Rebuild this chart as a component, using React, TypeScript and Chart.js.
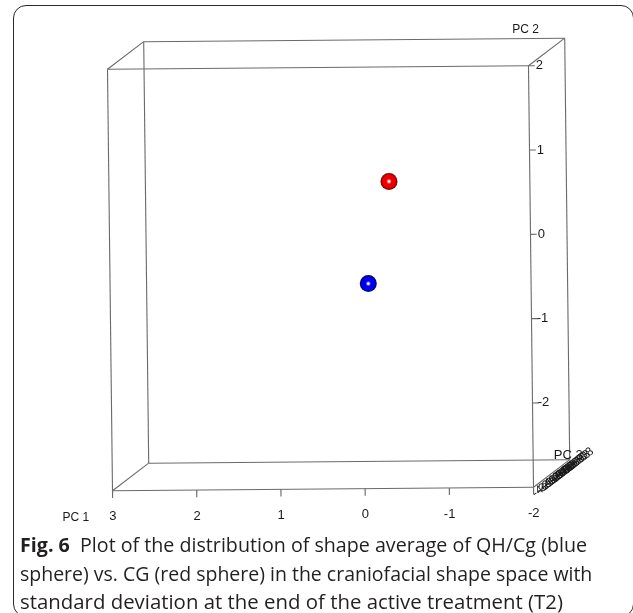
import { useEffect, useRef } from "react";
import { Chart, registerables } from "chart.js";
Chart.register(...registerables);

// ---- data ----
const pc1Range = [-2, 3];
const pc2Range = [-3, 2];
const pc3Range = [0, 1]; // PC3 extent (degenerate axis), as depth fraction
const pc1Ticks = [3, 2, 1, 0, -1, -2];
const pc2Ticks = [2, 1, 0, -1, -2];
const pc3TickLabels = ["-4e-08", "-3e-08", "-2e-08", "-1e-08", "0e+00", "1e-08", "2e-08", "3e-08", "4e-08", "5e-08", "6e-08"];
const groupNames = ["QH/Cg", "CG"];
const groupPC1 = [0.15, -0.11];
const groupPC2 = [-0.73, 0.48];
const groupPC3 = [0.5, 0.5];
const groupColors = [
  ["#6a6aff", "#0000ee", "#00006e"],
  ["#ff6a6a", "#ee0000", "#6e0000"],
];
const captionLines = [
  "Plot of the distribution of shape average of QH/Cg (blue",
  "sphere) vs. CG (red sphere) in the craniofacial shape space with",
  "standard deviation at the end of the active treatment (T2)",
];

// ---- oblique projection of the 3D box onto the 2D scales ----
const KX = 0.43;
const KY = 0.327;
const SX = 0.0119;
const SY = 0.0083;
function project(p1: number, p2: number, d: number) {
  return { x: p1 + SX * (p2 + 0.5) - KX * d, y: p2 + SY * (0.5 - p1) + KY * d };
}

const LINE_COLOR = "#6a6a6a";
const TEXT_COLOR = "#1a1a1a";

function segment(a: number[], b: number[]) {
  return {
    type: "line" as const,
    data: [project(a[0], a[1], a[2]), project(b[0], b[1], b[2])],
    borderColor: LINE_COLOR,
    borderWidth: 1.1,
    pointRadius: 0,
    fill: false,
    clip: false as any,
    order: 2,
  };
}

function buildDatasets() {
  const ds: any[] = [];
  const [x0, x1] = [pc1Range[1], pc1Range[0]];
  const [y0, y1] = [pc2Range[1], pc2Range[0]];
  const [z0, z1] = pc3Range;
  const corners = (z: number) => [
    [x0, y0, z],
    [x1, y0, z],
    [x1, y1, z],
    [x0, y1, z],
  ];
  const f = corners(z0);
  const b = corners(z1);
  for (let i = 0; i < 4; i++) {
    ds.push(segment(f[i], f[(i + 1) % 4]));
    ds.push(segment(b[i], b[(i + 1) % 4]));
    ds.push(segment(f[i], b[i]));
  }
  // PC1 ticks on the front-bottom edge
  for (const v of pc1Ticks) ds.push(segment([v, y1, z0], [v, y1 - 0.085, z0]));
  // PC2 ticks on the front-right edge
  for (const v of pc2Ticks) ds.push(segment([x1, v, z0], [x1 - 0.075, v, z0]));
  // group mean spheres
  groupNames.forEach((name, i) => {
    ds.push({
      type: "scatter",
      label: name,
      data: [project(groupPC1[i], groupPC2[i], groupPC3[i])],
      pointRadius: 8.5,
      borderWidth: 0,
      clip: false,
      order: 0,
      backgroundColor: (c: any) => {
        const chart = c.chart;
        const p = c.parsed;
        if (!chart.chartArea || !p) return groupColors[i][1];
        const cx = chart.scales.x.getPixelForValue(p.x);
        const cy = chart.scales.y.getPixelForValue(p.y);
        const g = chart.ctx.createRadialGradient(cx, cy, 0, cx, cy, 8.5);
        g.addColorStop(0, "#ffffff");
        g.addColorStop(0.08, "#ffffff");
        g.addColorStop(0.2, groupColors[i][0]);
        g.addColorStop(0.32, groupColors[i][1]);
        g.addColorStop(0.72, groupColors[i][1]);
        g.addColorStop(1, groupColors[i][2]);
        return g;
      },
    });
  });
  return ds;
}

type Lbl = { text: string; p1: number; p2: number; d: number; align: CanvasTextAlign; size: number; rot?: number };
const DEPTH_ANGLE = Math.atan2(-27.5, 36.2);
function buildLabels(): Lbl[] {
  const out: Lbl[] = [];
  for (const v of pc1Ticks) out.push({ text: String(v), p1: v, p2: -3.31, d: 0, align: "center", size: 13 });
  for (const v of pc2Ticks) out.push({ text: String(v), p1: -2.13, p2: v, d: 0, align: "center", size: 13 });
  out.push({ text: "PC 1", p1: 3.44, p2: -3.31, d: 0, align: "center", size: 12 });
  out.push({ text: "PC 2", p1: -1.97, p2: 2.43, d: 0, align: "center", size: 12 });
  out.push({ text: "PC 3", p1: -1.92, p2: -2.87, d: 0.75, align: "left", size: 13 });
  pc3TickLabels.forEach((t, i) => {
    const d = pc3Range[0] + ((pc3Range[1] - pc3Range[0]) * i) / (pc3TickLabels.length - 1);
    out.push({ text: t, p1: -2.0, p2: -3.09, d: d * 0.95, align: "left", size: 12, rot: DEPTH_ANGLE });
  });
  return out;
}
const axisLabels = buildLabels();

const labelPlugin = {
  id: "axisLabels",
  afterDatasetsDraw(chart: any) {
    const { ctx, scales } = chart;
    ctx.save();
    ctx.fillStyle = TEXT_COLOR;
    ctx.textBaseline = "middle";
    for (const l of axisLabels) {
      const p = project(l.p1, l.p2, l.d);
      const px = scales.x.getPixelForValue(p.x);
      const py = scales.y.getPixelForValue(p.y);
      ctx.font = `${l.size}px "Liberation Sans", Arial, sans-serif`;
      ctx.textAlign = l.align;
      if (l.rot) {
        ctx.save();
        ctx.translate(px, py);
        ctx.rotate(l.rot);
        ctx.fillText(l.text, 0, 0);
        ctx.restore();
      } else {
        ctx.fillText(l.text, px, py);
      }
    }
    ctx.restore();
  },
};

const lineTargets = [567, 572, 543];
const lineTops = [531, 560, 588];

export default function App() {
  const canvasRef = useRef<HTMLCanvasElement>(null);
  const lineRefs = useRef<(HTMLSpanElement | null)[]>([]);

  useEffect(() => {
    const chart = new Chart(canvasRef.current!, {
      type: "scatter",
      data: { datasets: buildDatasets() },
      options: {
        responsive: false,
        animation: false,
        devicePixelRatio: 1,
        events: [],
        layout: { padding: { left: 110, right: 102, top: 67.5, bottom: 124 } },
        plugins: { legend: { display: false }, tooltip: { enabled: false } },
        scales: {
          x: { type: "linear", min: pc1Range[0], max: pc1Range[1], reverse: true, display: false },
          y: { type: "linear", min: pc2Range[0], max: pc2Range[1], display: false },
        },
      },
      plugins: [labelPlugin],
    } as any);
    return () => chart.destroy();
  }, []);

  useEffect(() => {
    const fit = () => {
      lineRefs.current.forEach((el, i) => {
        if (!el) return;
        const w = el.offsetWidth;
        if (w > 0) el.style.transform = `scaleX(${lineTargets[i] / w})`;
      });
    };
    fit();
    (document as any).fonts?.ready?.then(fit);
  }, []);

  const lineStyle: React.CSSProperties = {
    position: "absolute",
    left: 20,
    whiteSpace: "nowrap",
    transformOrigin: "0 0",
    fontFamily: '"Open Sans", "Noto Sans", sans-serif',
    fontSize: 20,
    color: "#231f20",
    lineHeight: "28px",
  };
  return (
    <div style={{ position: "fixed", left: 0, top: 0, width: 633, height: 613, overflow: "hidden", background: "#fff" }}>
      <div
        style={{
          position: "absolute",
          left: 13,
          top: 5,
          width: 621,
          height: 612,
          border: "1.5px solid #2a2a2a",
          borderRadius: 13,
          boxSizing: "border-box",
        }}
      />
      <canvas ref={canvasRef} width={633} height={613} style={{ position: "absolute", left: 0, top: 0 }} />
      {captionLines.map((t, i) => (
        <span key={i} ref={(el) => { lineRefs.current[i] = el; }} style={{ ...lineStyle, top: lineTops[i] }}>
          {i === 0 ? (
            <>
              <b>Fig. 6</b>&nbsp; {t}
            </>
          ) : (
            t
          )}
        </span>
      ))}
    </div>
  );
}
